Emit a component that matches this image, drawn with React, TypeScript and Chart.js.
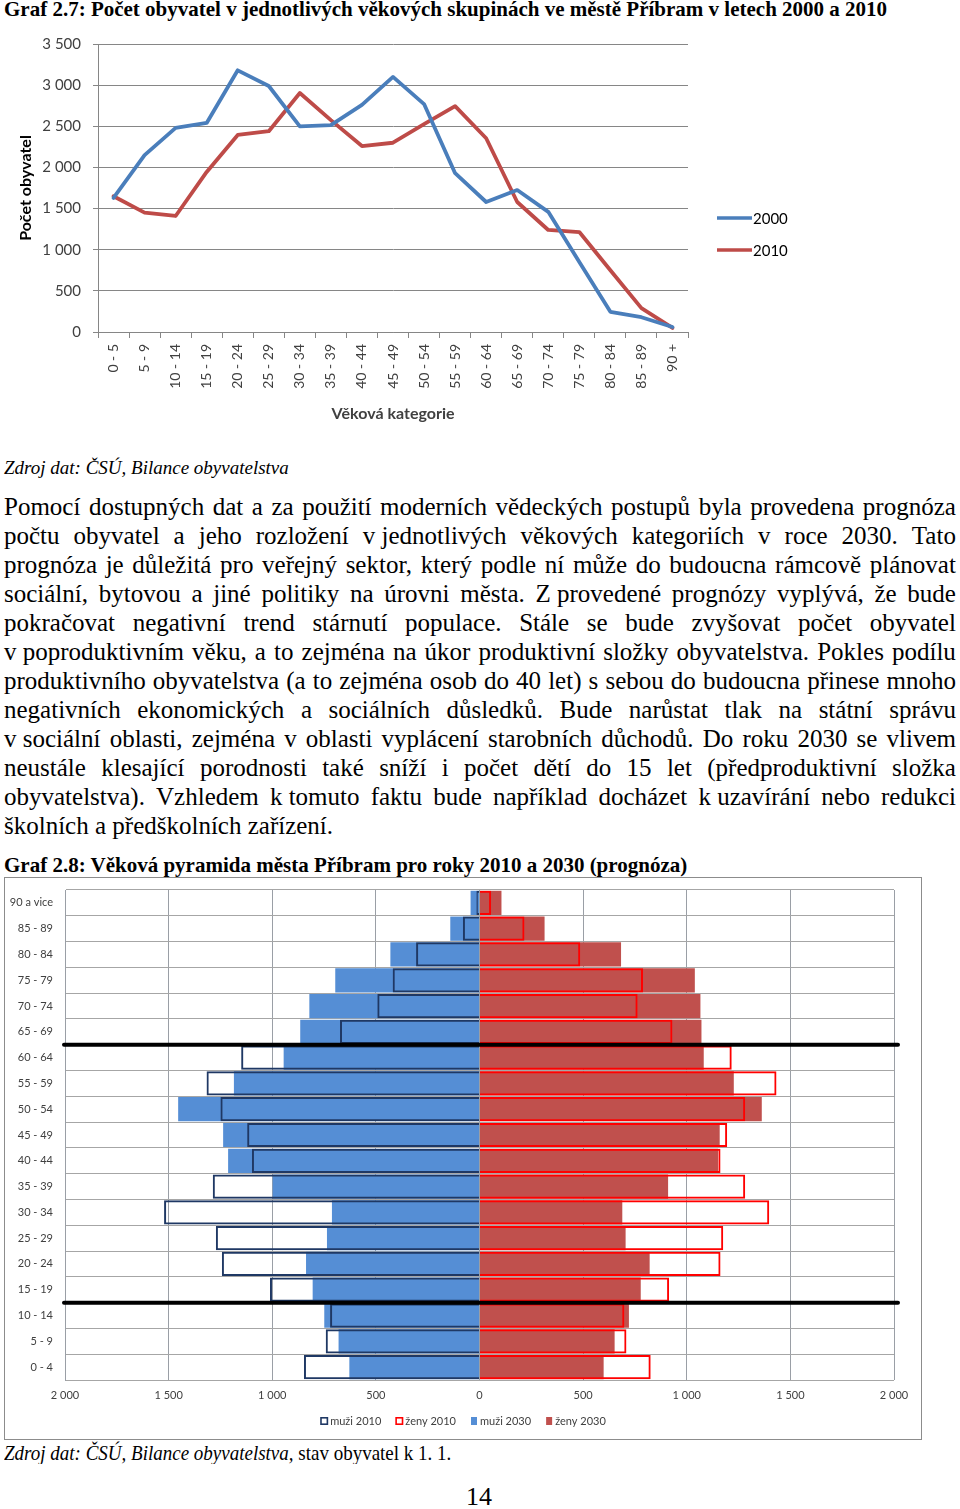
import React, { useEffect, useRef } from "react";
import { Chart, registerables } from "chart.js";

Chart.register(...registerables);

// ---------- Graf 2.7 data ----------
const ageGroups = [
  "0 - 5", "5 - 9", "10 - 14", "15 - 19", "20 - 24", "25 - 29", "30 - 34",
  "35 - 39", "40 - 44", "45 - 49", "50 - 54", "55 - 59", "60 - 64", "65 - 69",
  "70 - 74", "75 - 79", "80 - 84", "85 - 89", "90 +",
];
const pop2000 = [1630, 2150, 2480, 2540, 3180, 2990, 2500, 2515, 2760, 3100, 2770, 1930, 1580, 1725, 1460, 850, 245, 180, 60];
const pop2010 = [1650, 1450, 1410, 1945, 2395, 2440, 2905, 2575, 2260, 2300, 2525, 2745, 2355, 1580, 1240, 1215, 750, 290, 50];
const lineSeriesLabels = ["2000", "2010"];

// ---------- Graf 2.8 data (top row first) ----------
const pyramidGroups = [
  "90 a vice", "85 - 89", "80 - 84", "75 - 79", "70 - 74", "65 - 69", "60 - 64",
  "55 - 59", "50 - 54", "45 - 49", "40 - 44", "35 - 39", "30 - 34", "25 - 29",
  "20 - 24", "15 - 19", "10 - 14", "5 - 9", "0 - 4",
];
const men2010 = [15, 80, 306, 419, 493, 673, 1150, 1317, 1250, 1121, 1098, 1287, 1522, 1272, 1243, 1011, 721, 742, 847];
const women2010 = [56, 217, 486, 789, 763, 931, 1217, 1433, 1282, 1195, 1163, 1282, 1398, 1176, 1163, 915, 699, 709, 826];
const men2030 = [43, 141, 430, 696, 821, 865, 945, 1185, 1454, 1237, 1213, 998, 712, 736, 837, 805, 749, 680, 628];
const women2030 = [106, 314, 683, 1039, 1066, 1071, 1082, 1227, 1362, 1159, 1151, 910, 689, 705, 821, 778, 721, 652, 599];
const pyramidSeriesLabels = ["muži 2010", "ženy 2010", "muži 2030", "ženy 2030"];
const cohortBreaksAfter = ["65 - 69", "15 - 19"];

const paragraphLines = [
  "Pomocí dostupných dat a za použití moderních vědeckých postupů byla provedena prognóza",
  "počtu obyvatel a jeho rozložení v\u00a0jednotlivých věkových kategoriích v roce 2030. Tato",
  "prognóza je důležitá pro veřejný sektor, který podle ní může do budoucna rámcově plánovat",
  "sociální, bytovou a jiné politiky na úrovni města. Z\u00a0provedené prognózy vyplývá, že bude",
  "pokračovat negativní trend stárnutí populace. Stále se bude zvyšovat počet obyvatel",
  "v\u00a0poproduktivním věku, a to zejména na úkor produktivní složky obyvatelstva. Pokles podílu",
  "produktivního obyvatelstva (a to zejména osob do 40 let) s sebou do budoucna přinese mnoho",
  "negativních ekonomických a sociálních důsledků. Bude narůstat tlak na státní správu",
  "v\u00a0sociální oblasti, zejména v oblasti vyplácení starobních důchodů. Do roku 2030 se vlivem",
  "neustále klesající porodnosti také sníží i počet dětí do 15 let (předproduktivní složka",
  "obyvatelstva). Vzhledem k\u00a0tomuto faktu bude například docházet k\u00a0uzavírání nebo redukci",
  "školních a předškolních zařízení.",
];

const fmt = (v: number) => String(Math.abs(v)).replace(/\B(?=(\d{3})+(?!\d))/g, " ");

const chartFont = "Lato";
const serif = "'Liberation Serif', 'Times New Roman', serif";

function LineChart() {
  const ref = useRef<HTMLCanvasElement>(null);
  useEffect(() => {
    const sideLegend = {
      id: "sideLegend",
      afterDraw(chart: any) {
        const ctx = chart.ctx;
        const r = chart.chartArea.right;
        chart.data.datasets.forEach((ds: any, i: number) => {
          const y = 193 + i * 32;
          ctx.save();
          ctx.strokeStyle = ds.borderColor;
          ctx.lineWidth = 3.5;
          ctx.beginPath();
          ctx.moveTo(r + 29, y);
          ctx.lineTo(r + 64, y);
          ctx.stroke();
          ctx.fillStyle = "#000";
          ctx.font = `15px ${chartFont}`;
          ctx.textBaseline = "middle";
          ctx.fillText(ds.label, r + 65, y + 1);
          ctx.restore();
        });
      },
    };
    const chart = new Chart(ref.current as HTMLCanvasElement, {
      type: "line",
      data: {
        labels: ageGroups,
        datasets: [
          { label: lineSeriesLabels[0], data: pop2000, borderColor: "#4A7EBB", backgroundColor: "#4A7EBB", borderWidth: 3.8, pointRadius: 0, tension: 0, borderJoinStyle: "round", borderCapStyle: "round" },
          { label: lineSeriesLabels[1], data: pop2010, borderColor: "#BE4B48", backgroundColor: "#BE4B48", borderWidth: 3.8, pointRadius: 0, tension: 0, borderJoinStyle: "round", borderCapStyle: "round" },
        ],
      },
      options: {
        responsive: false,
        animation: false,
        devicePixelRatio: 1,
        layout: { padding: { top: 19, right: 132, bottom: 8, left: 0 } },
        plugins: { legend: { display: false }, tooltip: { enabled: false } },
        scales: {
          x: {
            offset: true,
            grid: { offset: true, drawOnChartArea: false, tickLength: 6, color: "#868686" },
            border: { color: "#868686" },
            ticks: { autoSkip: false, minRotation: 90, maxRotation: 90, font: { family: chartFont, size: 14 }, color: "#404040", padding: 6 },
            title: { display: true, text: "Věková kategorie", font: { family: chartFont, size: 16, weight: "bold" }, color: "#404040", padding: { top: 4, bottom: 4 } },
            afterFit: (s: any) => { s.height = 95; s.paddingLeft = 0; s.paddingRight = 0; },
          },
          y: {
            min: 0,
            max: 3500,
            ticks: { stepSize: 500, callback: (v: any) => fmt(Number(v)), font: { family: chartFont, size: 15 }, color: "#404040", padding: 12 },
            grid: { color: "#868686", tickLength: 5 },
            border: { color: "#868686" },
            title: { display: true, text: "Počet obyvatel", font: { family: chartFont, size: 16, weight: "bold" }, color: "#000", padding: { top: 16, bottom: 4 } },
            afterFit: (s: any) => { s.width = 98; s.paddingTop = 0; s.paddingBottom = 0; },
          },
        },
      },
      plugins: [sideLegend],
    } as any);
    return () => chart.destroy();
  }, []);
  return <canvas ref={ref} width={820} height={410} style={{ display: "block" }} />;
}

function PyramidChart() {
  const ref = useRef<HTMLCanvasElement>(null);
  useEffect(() => {
    const breakLines = {
      id: "breakLines",
      afterDatasetsDraw(chart: any) {
        const ctx = chart.ctx;
        const ys = chart.scales.y;
        const { left, right } = chart.chartArea;
        cohortBreaksAfter.forEach((lab) => {
          const i = pyramidGroups.indexOf(lab);
          const yy = (ys.getPixelForValue(i) + ys.getPixelForValue(i + 1)) / 2;
          ctx.save();
          ctx.strokeStyle = "#000";
          ctx.lineWidth = 4;
          ctx.lineCap = "round";
          ctx.beginPath();
          ctx.moveTo(left - 1, yy);
          ctx.lineTo(right + 4, yy);
          ctx.stroke();
          ctx.restore();
        });
      },
    };
    const bottomLegend = {
      id: "bottomLegend",
      afterDraw(chart: any) {
        const ctx = chart.ctx;
        ctx.save();
        ctx.font = `11px ${chartFont}`;
        ctx.textBaseline = "middle";
        const dss = chart.data.datasets;
        const box = 8, gap = 2, itemGap = 14;
        const widths = dss.map((d: any) => ctx.measureText(d.label).width);
        const total = widths.reduce((a: number, w: number) => a + box + gap + w, 0) + itemGap * (dss.length - 1);
        let x = chart.width / 2 - total / 2;
        const y = 543;
        dss.forEach((d: any, i: number) => {
          if (d.borderWidth > 0) {
            ctx.fillStyle = "#fff";
            ctx.fillRect(x, y - box / 2, box, box);
            ctx.strokeStyle = d.borderColor;
            ctx.lineWidth = 1.6;
            ctx.strokeRect(x + 0.8, y - box / 2 + 0.8, box - 1.6, box - 1.6);
          } else {
            ctx.fillStyle = d.backgroundColor;
            ctx.fillRect(x + 1, y - box / 2, box - 2, box);
          }
          ctx.fillStyle = "#404040";
          ctx.fillText(d.label, x + box + gap, y + 0.5);
          x += box + gap + widths[i] + itemGap;
        });
        ctx.restore();
      },
    };
    const chart = new Chart(ref.current as HTMLCanvasElement, {
      type: "bar",
      data: {
        labels: pyramidGroups,
        datasets: [
          { label: pyramidSeriesLabels[0], data: men2010.map((v) => -v), backgroundColor: "rgba(255,255,255,0)", borderColor: "#1F3864", borderWidth: 2 },
          { label: pyramidSeriesLabels[1], data: women2010, backgroundColor: "rgba(255,255,255,0)", borderColor: "#FF0000", borderWidth: 2 },
          { label: pyramidSeriesLabels[2], data: men2030.map((v) => -v), backgroundColor: "#558ED5", borderColor: "#558ED5", borderWidth: 0 },
          { label: pyramidSeriesLabels[3], data: women2030, backgroundColor: "#C0504D", borderColor: "#C0504D", borderWidth: 0 },
        ],
      },
      options: {
        indexAxis: "y",
        responsive: false,
        animation: false,
        devicePixelRatio: 1,
        datasets: { bar: { grouped: false, barPercentage: 1, categoryPercentage: 0.94 } },
        layout: { padding: { top: 12, right: 27, bottom: 35, left: 0 } },
        plugins: { legend: { display: false }, tooltip: { enabled: false } },
        scales: {
          x: {
            min: -2000,
            max: 2000,
            ticks: { stepSize: 500, callback: (v: any) => fmt(Number(v)), font: { family: chartFont, size: 11 }, color: "#404040", padding: 9 },
            grid: { color: "#9A9FA6", drawTicks: false },
            border: { display: false },
            afterFit: (s: any) => { s.height = 24; s.paddingLeft = 0; s.paddingRight = 0; },
          },
          y: {
            grid: { color: "#A6A6A6", drawTicks: false, offset: true },
            border: { color: "#9A9FA6" },
            ticks: { font: { family: chartFont, size: 11 }, color: "#404040", padding: 12 },
            afterFit: (s: any) => { s.width = 60; s.paddingTop = 0; s.paddingBottom = 0; },
          },
        },
      },
      plugins: [breakLines, bottomLegend],
    } as any);
    return () => chart.destroy();
  }, []);
  return <canvas ref={ref} width={916} height={561} style={{ display: "block" }} />;
}

export default function App() {
  const abs = (top: number, left: number, extra: React.CSSProperties = {}): React.CSSProperties => ({
    position: "absolute",
    top,
    left,
    margin: 0,
    whiteSpace: "nowrap",
    fontFamily: serif,
    color: "#000",
    ...extra,
  });
  return (
    <div style={{ position: "absolute", left: 0, top: 0, width: 960, height: 1509, background: "#fff", overflow: "hidden" }}>
      <div style={abs(-1, 4, { fontSize: 21, lineHeight: "21px", fontWeight: "bold" })}>
        Graf 2.7: Počet obyvatel v jednotlivých věkových skupinách ve městě Příbram v letech 2000 a 2010
      </div>
      <div style={{ position: "absolute", left: 0, top: 25 }}>
        <LineChart />
      </div>
      <div style={abs(458, 4, { fontSize: 19, lineHeight: "20px", fontStyle: "italic" })}>
        Zdroj dat: ČSÚ, Bilance obyvatelstva
      </div>
      <div style={{ position: "absolute", left: 4, top: 492, width: 952, fontFamily: serif, fontSize: 25, lineHeight: "29px", color: "#000" }}>
        {paragraphLines.map((l, i) => (
          <div
            key={i}
            style={{
              whiteSpace: "nowrap",
              display: "flex",
              justifyContent: i === paragraphLines.length - 1 ? "flex-start" : "space-between",
            }}
          >
            {i === paragraphLines.length - 1
              ? <span>{l}</span>
              : l.split(" ").map((w, j) => <span key={j}>{w}</span>)}
          </div>
        ))}
      </div>
      <div style={abs(855, 4, { fontSize: 21, lineHeight: "21px", fontWeight: "bold" })}>
        Graf 2.8: Věková pyramida města Příbram pro roky 2010 a 2030 (prognóza)
      </div>
      <div style={{ position: "absolute", left: 4, top: 877, width: 918, height: 563, border: "1px solid #8c8c8c", boxSizing: "border-box", background: "#fff" }}>
        <PyramidChart />
      </div>
      <div style={abs(1442, 4, { fontSize: 19, lineHeight: "20px", transform: "scaleY(1.1)", transformOrigin: "top left" })}>
        <i>Zdroj dat: ČSÚ, Bilance obyvatelstva,</i> stav obyvatel k 1. 1.
      </div>
      <div style={abs(1484, 466, { fontSize: 26, lineHeight: "26px" })}>14</div>
    </div>
  );
}
